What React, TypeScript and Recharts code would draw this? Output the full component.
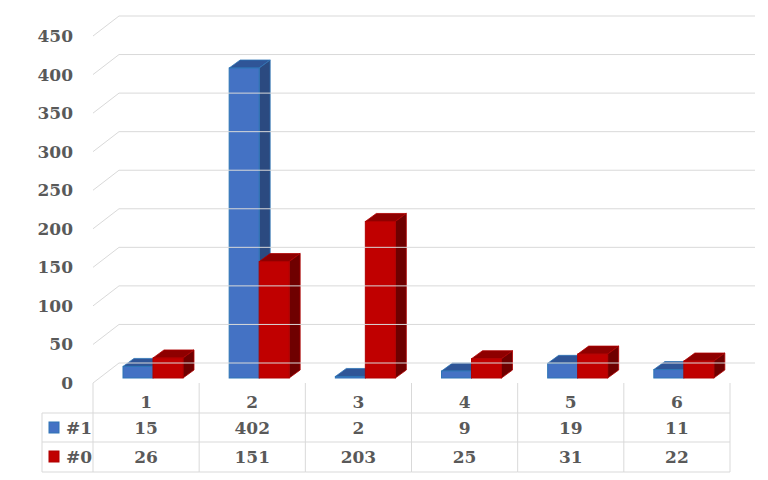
import { BarChart, Bar, XAxis, YAxis } from "recharts";

const categorie = ["1", "2", "3", "4", "5", "6"];
const serie1 = [15, 402, 2, 9, 19, 11];
const serie0 = [26, 151, 203, 25, 31, 22];
const nomiSerie = ["#1", "#0"];
const yTicks = [0, 50, 100, 150, 200, 250, 300, 350, 400, 450];

const dati = categorie.map((c, i) => ({ cat: c, s1: serie1[i], s0: serie0[i] }));

// layout
const PLOT_LEFT = 93;
const PLOT_RIGHT = 730;
const BAND = (PLOT_RIGHT - PLOT_LEFT) / categorie.length;
const DEPTH_X = 26;
const DEPTH_Y = 20;
const GRID_END = 755;
const TEXT = "#595959";
const LINE = "#d9d9d9";
const FONT = "'DejaVu Serif', serif";

const colori = {
  s1: { front: "#4472c4", top: "#2f5597", side: "#2b4a80", edge: "#2e75b6" },
  s0: { front: "#c00000", top: "#8e0000", side: "#6f0000", edge: "#b00000" },
};

const makeShape =
  (c: { front: string; top: string; side: string; edge: string }) => (props: any) => {
    const { x, y, width, height } = props;
    if (x == null || width == null) return null;
    const dx = 11;
    const dy = 8;
    const x0 = x + 7;
    const x1 = x0 + width;
    const yt = y - 5;
    const yb = y + height - 5;
    return (
      <g>
        <polygon
          points={`${x0},${yt} ${x1},${yt} ${x1 + dx},${yt - dy} ${x0 + dx},${yt - dy}`}
          fill={c.top}
          stroke={c.edge}
          strokeWidth={0.8}
        />
        <polygon
          points={`${x1},${yt} ${x1 + dx},${yt - dy} ${x1 + dx},${yb - dy} ${x1},${yb}`}
          fill={c.side}
          stroke={c.edge}
          strokeWidth={0.8}
        />
        <rect x={x0} y={yt} width={width} height={Math.max(yb - yt, 0)} fill={c.front} stroke={c.edge} strokeWidth={1} />
      </g>
    );
  };

const YTick = (props: any) => {
  const { y, payload } = props;
  return (
    <g>
      <line x1={PLOT_LEFT} y1={y} x2={PLOT_LEFT + DEPTH_X} y2={y - DEPTH_Y} stroke={LINE} />
      <line x1={PLOT_LEFT + DEPTH_X} y1={y - DEPTH_Y} x2={GRID_END} y2={y - DEPTH_Y} stroke={LINE} />
      <text x={73} y={y} textAnchor="end" dominantBaseline="central" fill={TEXT} fontSize={17} fontWeight="bold" fontFamily={FONT}>
        {payload.value}
      </text>
    </g>
  );
};

const XTick = (props: any) => {
  const { x, payload, index } = props;
  const i = payload.index ?? index;
  const l = x - BAND / 2;
  const r = x + BAND / 2;
  const rows = [
    { name: nomiSerie[0], val: serie1[i], col: colori.s1, y: 428 },
    { name: nomiSerie[1], val: serie0[i], col: colori.s0, y: 457 },
  ];
  const tf = { fill: TEXT, fontSize: 17, fontWeight: "bold" as const, fontFamily: FONT };
  return (
    <g>
      <line x1={l} y1={383} x2={l} y2={472} stroke={LINE} />
      {i === categorie.length - 1 && <line x1={r} y1={383} x2={r} y2={472} stroke={LINE} />}
      {[413, 442, 472].map((yy) => (
        <line key={yy} x1={i === 0 ? 42 : l} y1={yy} x2={r} y2={yy} stroke={LINE} />
      ))}
      <text x={x} y={402} textAnchor="middle" dominantBaseline="central" {...tf}>
        {payload.value}
      </text>
      {rows.map((rw) => (
        <text key={rw.name} x={x} y={rw.y} textAnchor="middle" dominantBaseline="central" {...tf}>
          {rw.val}
        </text>
      ))}
      {i === 0 && (
        <g>
          <line x1={42} y1={413} x2={42} y2={472} stroke={LINE} />
          {rows.map((rw) => (
            <g key={rw.name}>
              <rect x={49} y={rw.y - 6} width={10} height={11} fill={rw.col.front} stroke={rw.col.edge} />
              <text x={66} y={rw.y} textAnchor="start" dominantBaseline="central" {...tf}>
                {rw.name}
              </text>
            </g>
          ))}
        </g>
      )}
    </g>
  );
};

export default function App() {
  return (
    <div style={{ position: "absolute", left: 0, top: 0, width: 768, height: 480, background: "#fff" }}>
      <BarChart
        width={768}
        height={480}
        data={dati}
        margin={{ top: 36, right: 768 - PLOT_RIGHT, bottom: 0, left: 0 }}
        barGap={0}
        barSize={30}
      >
        <YAxis
          domain={[0, 450]}
          ticks={yTicks}
          interval={0}
          width={PLOT_LEFT}
          axisLine={false}
          tickLine={false}
          tick={<YTick />}
        />
        <XAxis
          dataKey="cat"
          height={480 - 383 - 0}
          interval={0}
          axisLine={false}
          tickLine={false}
          tick={<XTick />}
        />
        <Bar dataKey="s1" name={nomiSerie[0]} isAnimationActive={false} shape={makeShape(colori.s1)} />
        <Bar dataKey="s0" name={nomiSerie[1]} isAnimationActive={false} shape={makeShape(colori.s0)} />
      </BarChart>
    </div>
  );
}
